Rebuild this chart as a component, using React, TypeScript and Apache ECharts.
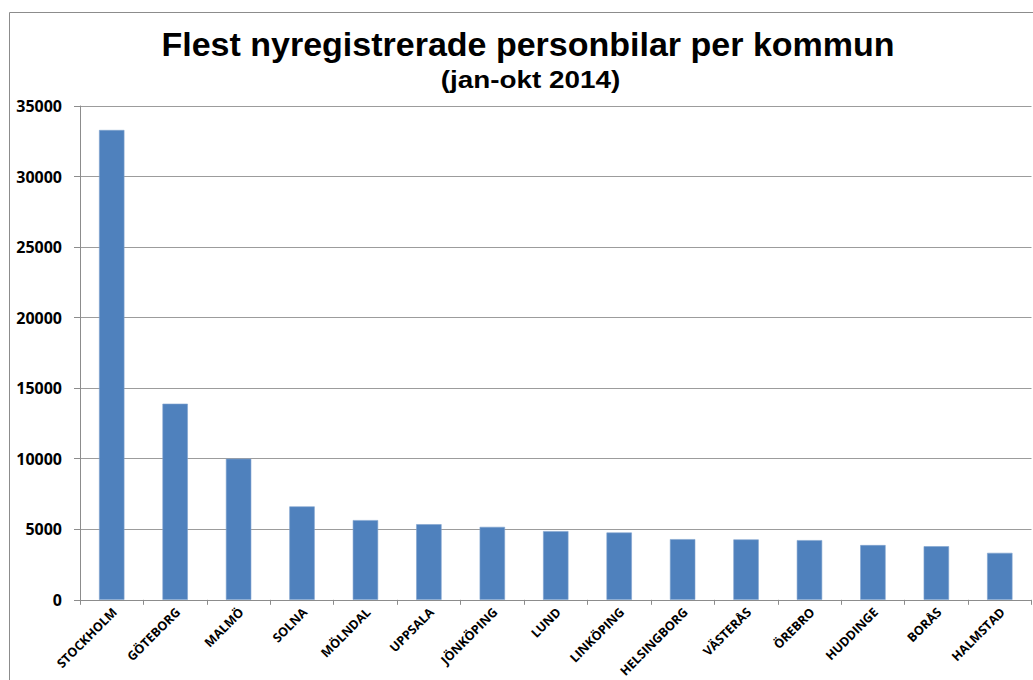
import React, { useEffect, useRef } from "react";
import * as echarts from "echarts";

const categories = [
  "STOCKHOLM", "GÖTEBORG", "MALMÖ", "SOLNA", "MÖLNDAL", "UPPSALA", "JÖNKÖPING",
  "LUND", "LINKÖPING", "HELSINGBORG", "VÄSTERÅS", "ÖREBRO", "HUDDINGE", "BORÅS", "HALMSTAD",
];
const values = [33300, 13900, 10000, 6620, 5650, 5360, 5170, 4870, 4770, 4300, 4280, 4230, 3880, 3800, 3330];
const titleText = "Flest nyregistrerade personbilar per kommun";
const subtitleText = "(jan-okt 2014)";
const yMin = 0;
const yMax = 35000;
const yInterval = 5000;

export default function App() {
  const ref = useRef<HTMLDivElement>(null);
  useEffect(() => {
    if (!ref.current) return;
    const chart = echarts.init(ref.current, null, { renderer: "svg" });
    chart.setOption({
      animation: false,
      backgroundColor: "#ffffff",
      grid: { left: 80, right: 1.5, top: 106, bottom: 80, containLabel: false },
      graphic: [
        {
          type: "rect",
          shape: { x: 9.5, y: 12.5, width: 1200, height: 1000 },
          style: { fill: "none", stroke: "#8c8c8c", lineWidth: 1 },
          silent: true,
        },
        {
          type: "text",
          x: 528,
          y: 44,
          style: {
            text: titleText,
            font: "bold 34px 'Liberation Sans', Arial, sans-serif",
            fill: "#000000",
            align: "center",
            verticalAlign: "middle",
          },
        },
        {
          type: "text",
          x: 530.5,
          y: 80,
          scaleX: 1.16,
          style: {
            text: subtitleText,
            font: "bold 24px 'Liberation Sans', Arial, sans-serif",
            fill: "#000000",
            align: "center",
            verticalAlign: "middle",
          },
        },
      ],
      xAxis: {
        type: "category",
        data: categories,
        boundaryGap: true,
        axisLine: { show: true, lineStyle: { color: "#8c8c8c", width: 1 } },
        axisTick: { show: true, length: 5, alignWithLabel: false, lineStyle: { color: "#8c8c8c" } },
        axisLabel: {
          interval: 0,
          rotate: 45,
          margin: 13,
          padding: [0, -4, 0, 0],
          color: "#000000",
          fontFamily: "'Open Sans', sans-serif",
          fontWeight: "bold",
          fontSize: 12.5,
        },
      },
      yAxis: {
        type: "value",
        min: yMin,
        max: yMax,
        interval: yInterval,
        axisLine: { show: true, lineStyle: { color: "#8c8c8c", width: 1 } },
        axisTick: { show: true, length: 6, lineStyle: { color: "#8c8c8c" } },
        splitLine: { show: true, lineStyle: { color: "#9c9c9c", width: 1 } },
        axisLabel: {
          margin: 18,
          color: "#000000",
          fontFamily: "'Open Sans', sans-serif",
          fontWeight: "bold",
          fontSize: 16,
          formatter: (v: number) => String(v),
        },
      },
      series: [
        {
          type: "bar",
          data: values,
          barWidth: "40%",
          itemStyle: { color: "#4F81BD", borderColor: "#7fa3cf", borderWidth: 0.6 },
        },
      ],
    });
    return () => chart.dispose();
  }, []);
  return (
    <div
      ref={ref}
      style={{ position: "fixed", left: 0, top: 0, width: 1033, height: 680, background: "#fff" }}
    />
  );
}
